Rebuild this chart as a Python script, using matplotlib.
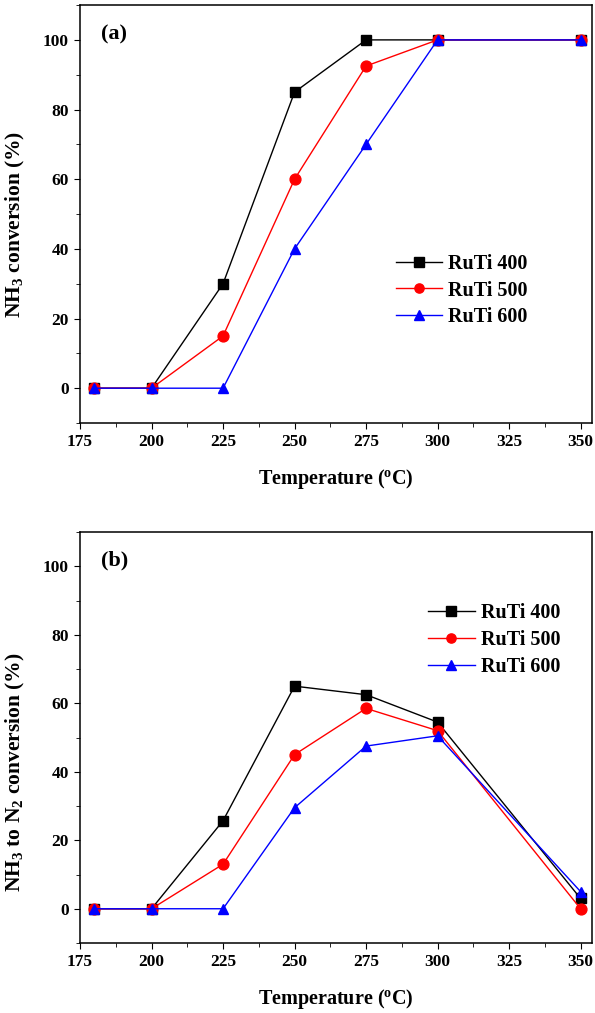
import numpy as np
import matplotlib.pyplot as plt
from matplotlib.ticker import MultipleLocator

plt.rcParams['font.family'] = ['Liberation Serif', 'DejaVu Serif']
plt.rcParams['font.weight'] = 'bold'
plt.rcParams['axes.labelweight'] = 'bold'
plt.rcParams['mathtext.fontset'] = 'custom'
plt.rcParams['mathtext.rm'] = 'Liberation Serif:bold'
plt.rcParams['mathtext.it'] = 'Liberation Serif:bold'
plt.rcParams['mathtext.bf'] = 'Liberation Serif:bold'

temps = [180, 200, 225, 250, 275, 300, 350]
labels = ['RuTi 400', 'RuTi 500', 'RuTi 600']

# (a) NH3 conversion
conv_400 = [0, 0, 30, 85, 100, 100, 100]
conv_500 = [0, 0, 15, 60, 92.5, 100, 100]
conv_600 = [0, 0, 0, 40, 70, 100, 100]

# (b) NH3 to N2 conversion
n2_400 = [0, 0, 25.7, 65, 62.5, 54.5, 3]
n2_500 = [0, 0, 13, 45, 58.5, 52, 0]
n2_600 = [0, 0, 0, 29.5, 47.5, 50.5, 5]

colors = ['black', 'red', 'blue']
markers = ['s', 'o', '^']

fig = plt.figure(figsize=(5.95, 10.13), dpi=100)
ax1 = fig.add_axes([0.1345, 0.5824, 0.8605, 0.4126])
ax2 = fig.add_axes([0.1345, 0.0691, 0.8605, 0.4057])

panels = [
    (ax1, [conv_400, conv_500, conv_600], '(a)', 'NH$_3$ conversion (%)', (0.617, 0.317), 0.475),
    (ax2, [n2_400, n2_500, n2_600], '(b)', 'NH$_3$ to N$_2$ conversion (%)', (0.68, 0.737), 0.416),
]

for ax, series, tag, ylab, legpos, ylab_y in panels:
    for ys, c, m, lab in zip(series, colors, markers, labels):
        ax.plot(temps, ys, color=c, marker=m, markersize=7.8, linewidth=1, label=lab)
    ax.set_xlim(175, 354)
    ax.set_ylim(-10, 110)
    ax.xaxis.set_major_locator(MultipleLocator(25))
    ax.xaxis.set_minor_locator(MultipleLocator(12.5))
    ax.yaxis.set_major_locator(MultipleLocator(20))
    ax.yaxis.set_minor_locator(MultipleLocator(10))
    ax.tick_params(which='both', direction='out', top=False, right=False, labelsize=12.5)
    ax.tick_params(which='major', length=4.5)
    ax.tick_params(which='minor', length=3)
    for sp in ax.spines.values():
        sp.set_linewidth(1.1)
    ax.set_xlabel('Temperature ($^{\\rm o}$C)', fontsize=14.5, labelpad=12)
    ax.set_ylabel(ylab, fontsize=15.5)
    ax.yaxis.set_label_coords(-0.104, ylab_y)
    ax.text(0.04, 0.93, tag, transform=ax.transAxes, fontsize=16, fontweight='bold', va='center')
    ax.legend(loc='center left', bbox_to_anchor=legpos, frameon=False, fontsize=14.5,
              handlelength=2.3, handletextpad=0.3, labelspacing=0.33,
              borderpad=0, borderaxespad=0, markerscale=0.85)

plt.savefig('out.png', dpi=100)
